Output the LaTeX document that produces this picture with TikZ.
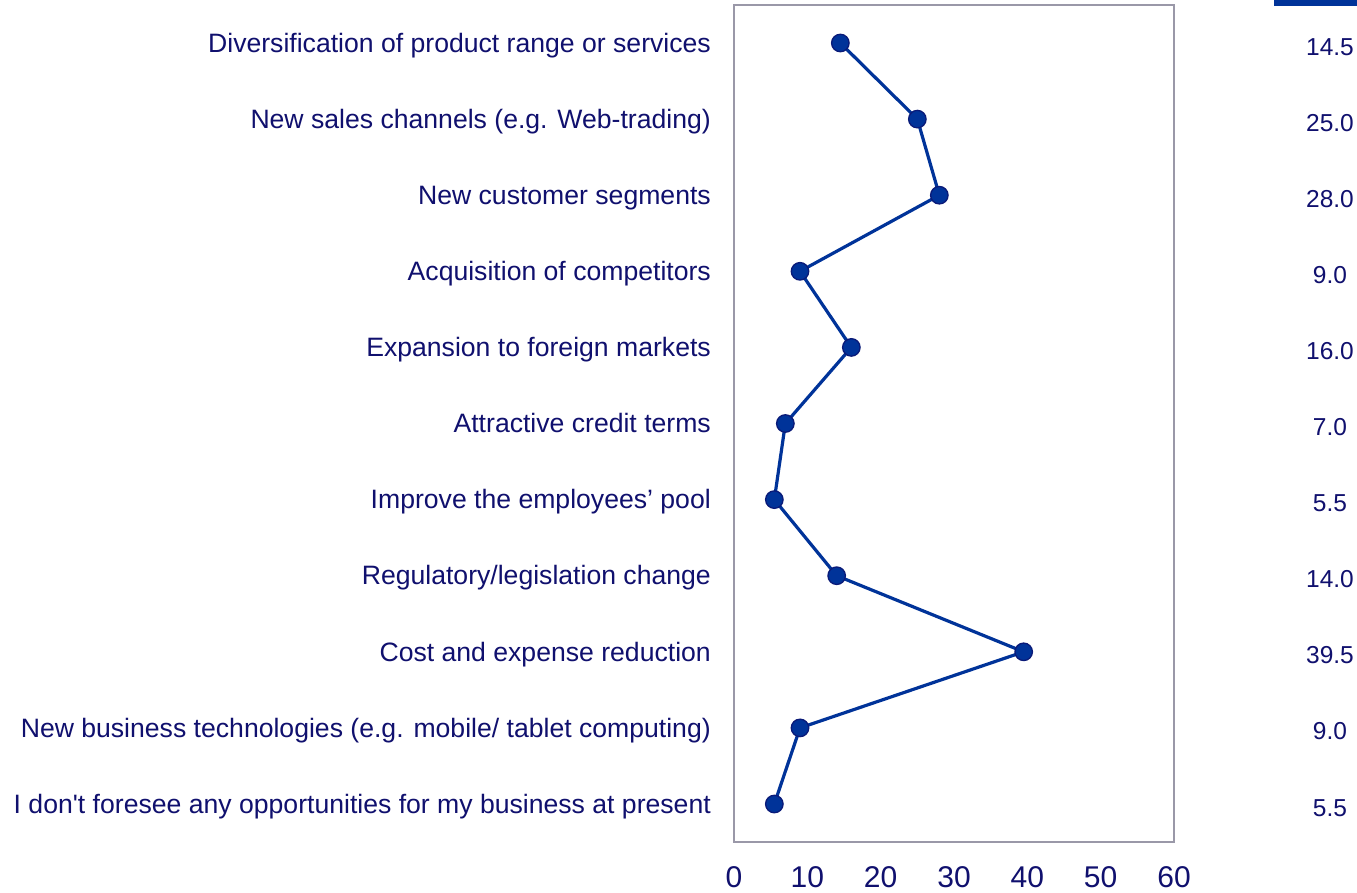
\documentclass[tikz,border=0pt]{standalone}
\usepackage{fontspec}
\setmainfont{Liberation Sans}[Ligatures=TeXOff]
\definecolor{navytext}{HTML}{10106E}
\definecolor{lineblue}{HTML}{003399}
\definecolor{markedge}{HTML}{0A1A78}
\definecolor{framegray}{HTML}{9A98A8}
\begin{document}
\begin{tikzpicture}[x=1pt,y=-1pt,
  rowlabel/.style={anchor=base east,inner sep=0pt,text=navytext,font=\fontsize{26.6}{30}\selectfont},
  vallabel/.style={anchor=base,inner sep=0pt,text=navytext,font=\fontsize{24.5}{28}\selectfont},
  ticklabel/.style={anchor=base,inner sep=0pt,text=navytext,font=\fontsize{30}{34}\selectfont},
  marker/.style={circle,fill=lineblue,draw=markedge,line width=1.3pt,minimum size=17.5pt,inner sep=0pt},
  series/.style={draw=lineblue,line width=3.2pt}]
\useasboundingbox (0,0) rectangle (1357,892);
\fill[white] (0,0) rectangle (1357,892);
% frame
\draw[framegray,line width=1.5pt] (734,5) rectangle (1174,842);
% top-right bar
\fill[lineblue] (1274,0) rectangle (1357,6);
% rows
\foreach \i/\v/\txt in {
 1/14.5/{Diversification of product range or services},
 2/25.0/{New sales channels (e.g. Web-trading)},
 3/28.0/{New customer segments},
 4/9.0/{Acquisition of competitors},
 5/16.0/{Expansion to foreign markets},
 6/7.0/{Attractive credit terms},
 7/5.5/{Improve the employees’ pool},
 8/14.0/{Regulatory/legislation change},
 9/39.5/{Cost and expense reduction},
 10/9.0/{New business technologies (e.g. mobile/ tablet computing)},
 11/5.5/{I don't foresee any opportunities for my business at present}}{
  \pgfmathsetmacro{\yy}{43+(\i-1)*76.1}
  \pgfmathsetmacro{\xx}{734+\v*7.33333}
  \node[rowlabel] (l\i) at (711,\yy+9.2) {\txt};
  \node[vallabel] (v\i) at (1330,\yy+12) {\v};
  \coordinate (c\i) at (\xx,\yy);
}
\draw[series] (c1)--(c2)--(c3)--(c4)--(c5)--(c6)--(c7)--(c8)--(c9)--(c10)--(c11);
\foreach \i in {1,...,11}{\node[marker] (p\i) at (c\i) {};}
% axis ticks
\foreach \n [count=\k from 0] in {0,10,20,30,40,50,60}{
  \node[ticklabel] (t\k) at (734+\k*73.3333,887) {\n};
}
\end{tikzpicture}
\end{document}
